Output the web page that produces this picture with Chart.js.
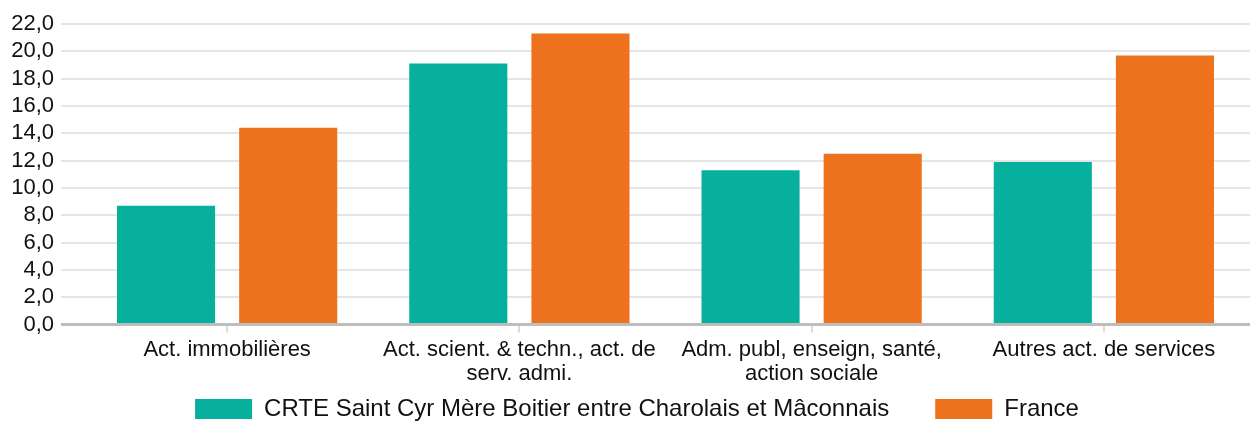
<!DOCTYPE html>
<html>
<head>
<meta charset="utf-8">
<script src="https://cdn.jsdelivr.net/npm/chart.js@4"></script>
<style>
  html, body { margin: 0; padding: 0; background: #fff; }
  #wrap { width: 1255px; height: 422px; position: relative; }
</style>
</head>
<body>
<div id="wrap"><canvas id="chart"></canvas></div>
<script>
// categories and values
const categories = [
  "Act. immobilières",
  ["Act. scient. & techn., act. de", "serv. admi."],
  ["Adm. publ, enseign, santé,", "action sociale"],
  "Autres act. de services"
];
const seriesNames = ["CRTE Saint Cyr Mère Boitier entre Charolais et Mâconnais", "France"];
const crteValues = [8.7, 19.1, 11.3, 11.9];
const franceValues = [14.4, 21.3, 12.5, 19.7];
const yTicks = [0, 2, 4, 6, 8, 10, 12, 14, 16, 18, 20, 22];

const fontFamily = "'Liberation Sans', Arial, sans-serif";

// the legend in the reference sits a little right of centre
const legendShift = {
  id: "legendShift",
  afterLayout(chart) {
    chart.legend.left += 12;
    chart.legend.right += 12;
  },
};

const ctx = document.getElementById("chart").getContext("2d");

new Chart(ctx, {
  type: "bar",
  data: {
    labels: categories,
    datasets: [
      {
        label: seriesNames[0],
        data: crteValues,
        backgroundColor: "#06b09c",
        categoryPercentage: 0.836,
        barPercentage: 0.803,
      },
      {
        label: seriesNames[1],
        data: franceValues,
        backgroundColor: "#ee711e",
        categoryPercentage: 0.836,
        barPercentage: 0.803,
      },
    ],
  },
  plugins: [legendShift],
  options: {
    responsive: true,
    maintainAspectRatio: false,
    animation: false,
    layout: { padding: { top: 24, right: 5, bottom: -9, left: 0 } },
    plugins: {
      tooltip: { enabled: false },
      legend: {
        position: "bottom",
        labels: {
          boxWidth: 57,
          boxHeight: 20,
          padding: 6,
          color: "#111",
          font: { family: fontFamily, size: 24 },
          // extra spaces after the first entry widen the gap between items
          generateLabels: (chart) => {
            const items = Chart.defaults.plugins.legend.labels.generateLabels(chart);
            items[0].text = items[0].text + "      ";
            return items;
          },
        },
      },
    },
    scales: {
      x: {
        grid: {
          offset: false,
          drawOnChartArea: false,
          tickLength: 8,
          color: "#dcdcdc",
          lineWidth: 2,
        },
        border: { display: false },
        ticks: {
          color: "#111",
          padding: 5,
          maxRotation: 0,
          autoSkip: false,
          font: { family: fontFamily, size: 22, lineHeight: 1.1 },
        },
      },
      y: {
        min: 0,
        max: 22,
        afterBuildTicks: (axis) => {
          axis.ticks = yTicks.map((v) => ({ value: v }));
        },
        afterFit: (axis) => {
          axis.width = 81;
        },
        grid: {
          color: (c) => (c.tick && c.tick.value === 0 ? "#bdbdbd" : "#e5e5e5"),
          lineWidth: (c) => (c.tick && c.tick.value === 0 ? 3 : 2),
          tickLength: 20,
        },
        border: { display: false },
        ticks: {
          color: "#111",
          padding: 7,
          autoSkip: false,
          font: { family: fontFamily, size: 22 },
          callback: (v) => v.toFixed(1).replace(".", ","),
        },
      },
    },
  },
});
</script>
</body>
</html>
